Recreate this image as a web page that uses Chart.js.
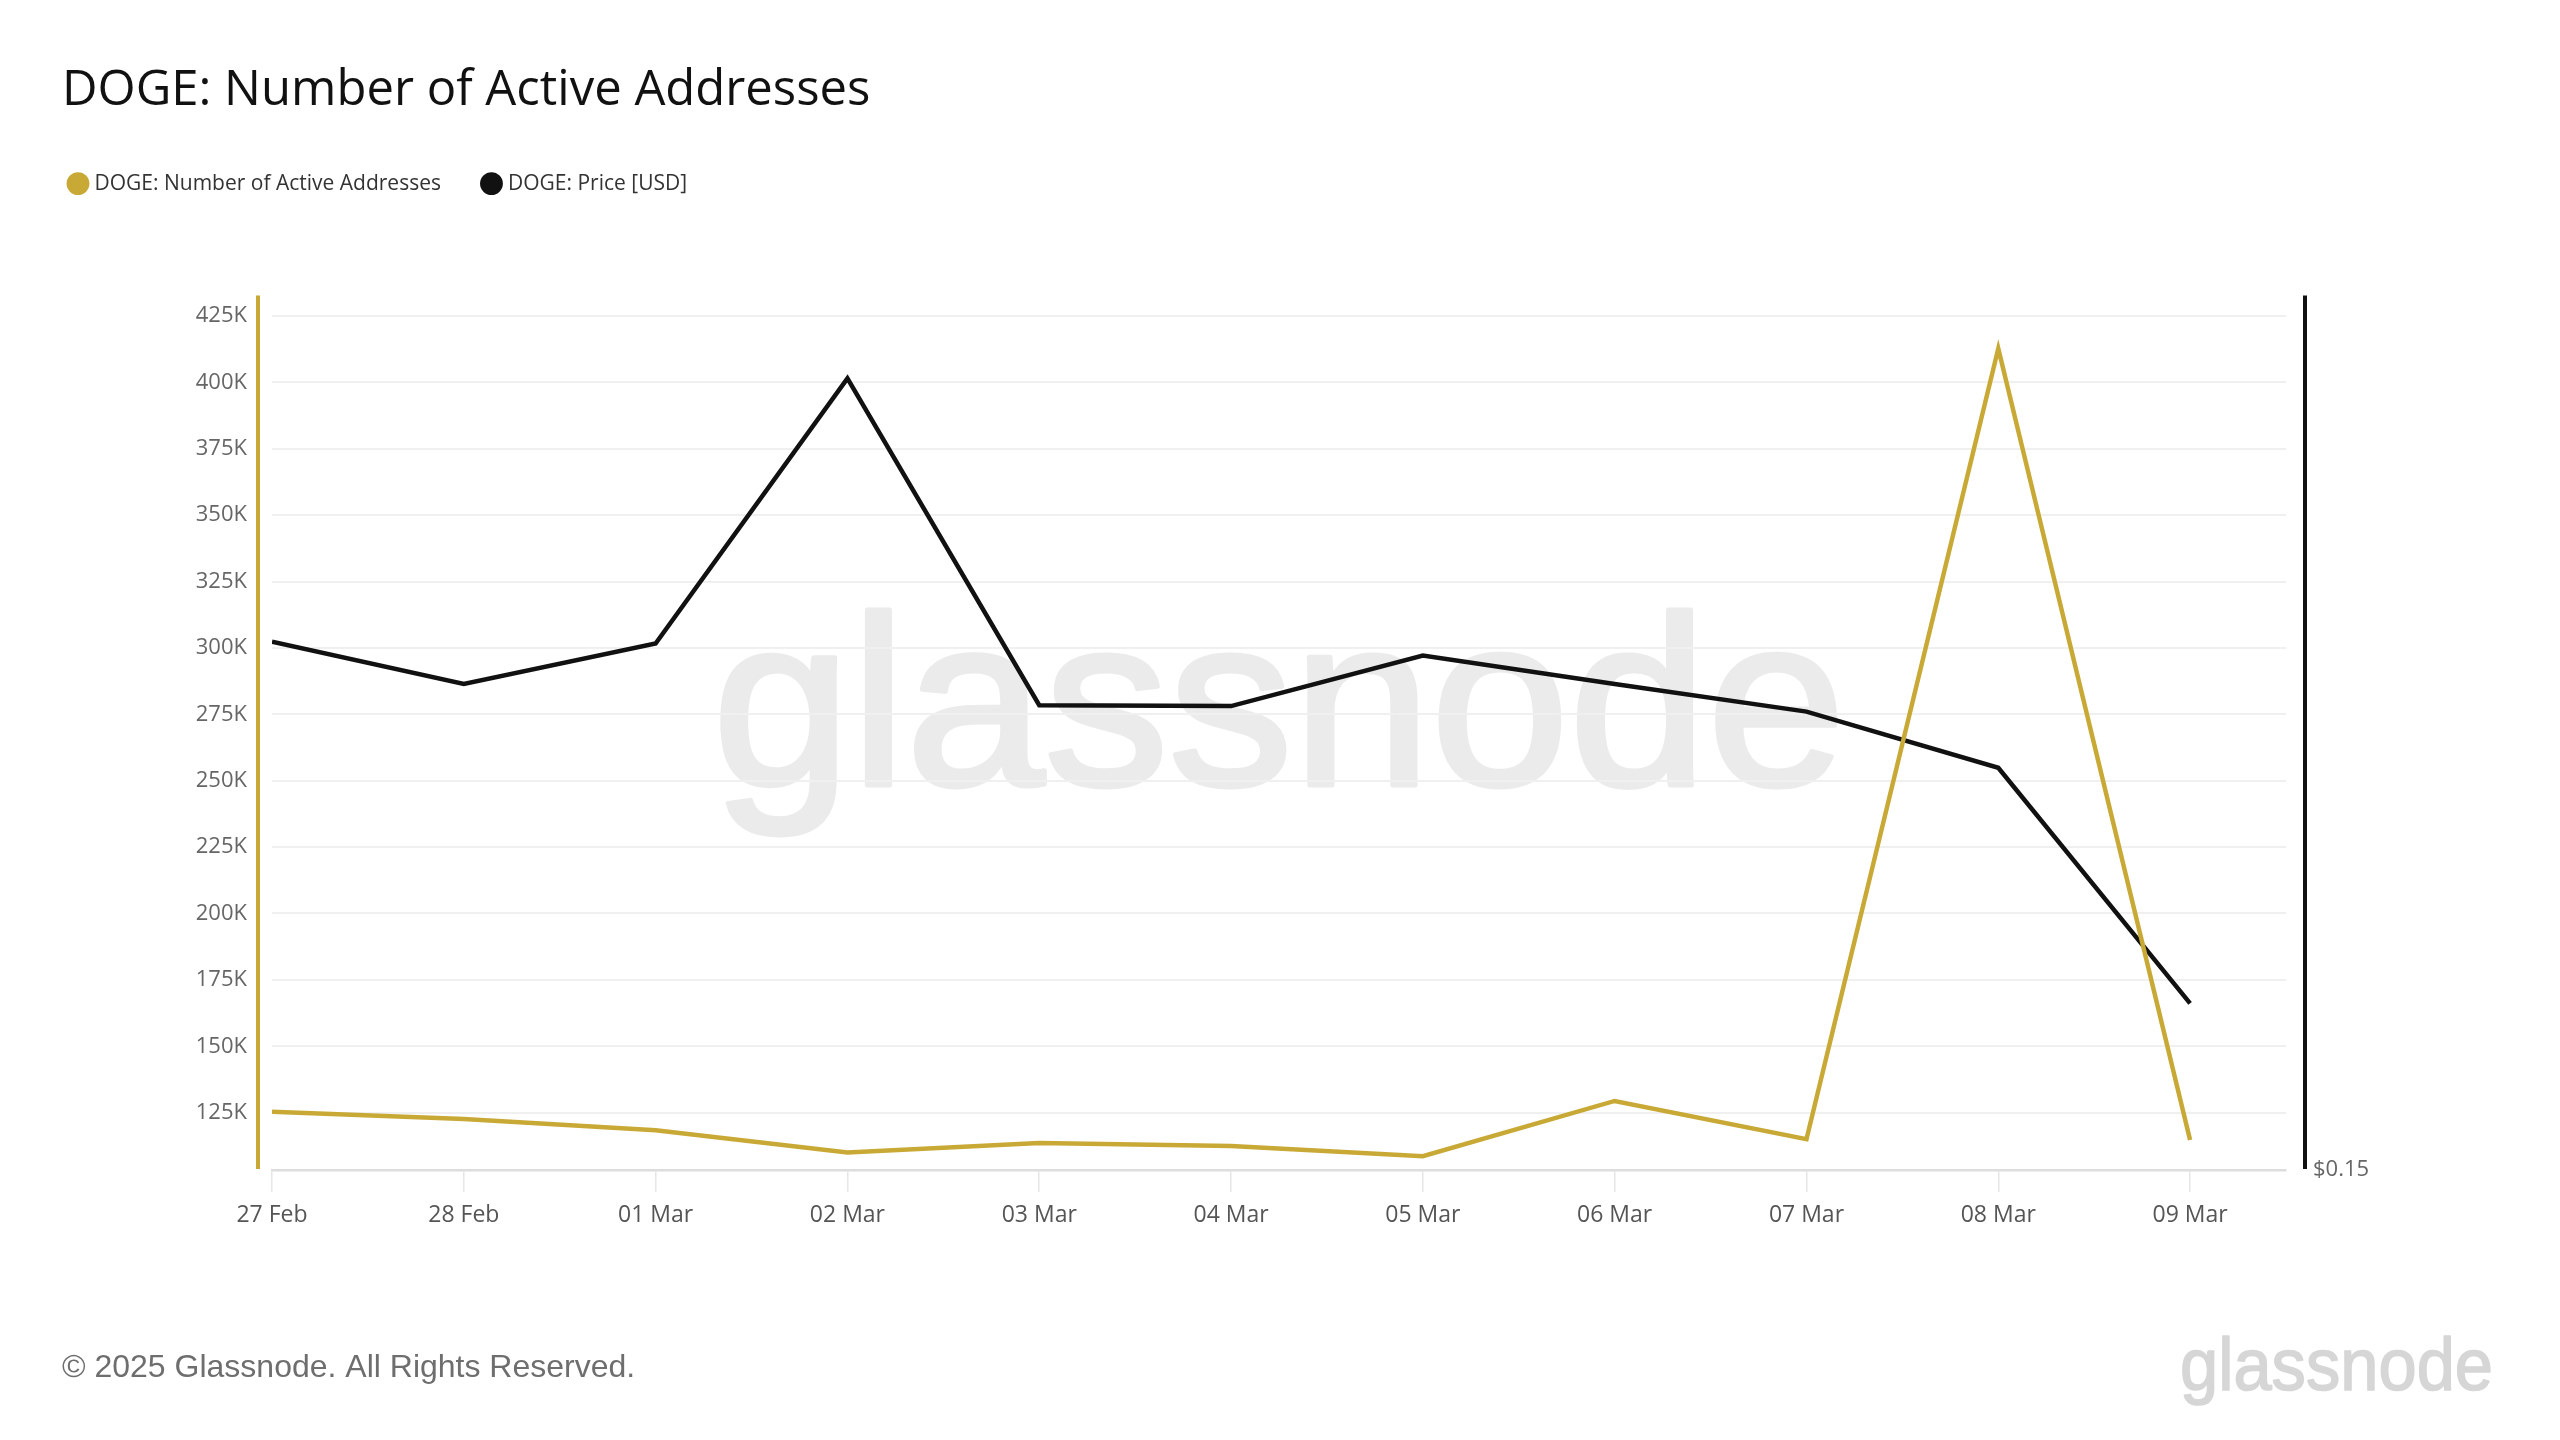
<!DOCTYPE html>
<html>
<head>
<meta charset="utf-8">
<title>DOGE: Number of Active Addresses</title>
<script src="https://cdn.jsdelivr.net/npm/chart.js@4.4.1/dist/chart.umd.min.js"></script>
<style>
    html, body { margin: 0; padding: 0; background: #fff; }
    #wrap { width: 2560px; height: 1440px; }
</style>
</head>
<body>
<div id="wrap"><canvas id="myChart" width="2560" height="1440"></canvas></div>
<script>
const dates = ['27 Feb', '28 Feb', '01 Mar', '02 Mar', '03 Mar', '04 Mar', '05 Mar', '06 Mar', '07 Mar', '08 Mar', '09 Mar'];
const activeAddresses = [125300, 122600, 118400, 110000, 113600, 112400, 108600, 129400, 115000, 412800, 114700];
const priceUsd = [0.2074, 0.2028, 0.2072, 0.2360, 0.2005, 0.2004, 0.2059, 0.2028, 0.1998, 0.1937, 0.1681];
const addressTicks = [125000, 150000, 175000, 200000, 225000, 250000, 275000, 300000, 325000, 350000, 375000, 400000, 425000];
const priceTicks = [0.15];

const GOLD = '#c9a935';
const BLACK = '#111111';
const FONT = "'Open Sans', 'Noto Sans', sans-serif";
const LEGEND_GAP = 44.5;

// extra room between the legend and the plot, and wider gap between legend items
const legendMargin = {
    id: 'legendMargin',
    beforeInit(chart) {
        const fitValue = chart.legend.fit;
        chart.legend.fit = function fit() {
            fitValue.bind(chart.legend)();
            this.height += 57;
        };
    },
    afterLayout(chart) {
        // put the first item where a 10px padding would put it
        chart.legend.left -= LEGEND_GAP - 10;
        chart.legend.top -= LEGEND_GAP - 10;
    }
};

function drawWord(ctx, text, cx, baseline, size, width, color, weight) {
    ctx.save();
    ctx.font = size + "px 'Liberation Sans', Arial, sans-serif";
    const w = ctx.measureText(text).width;
    ctx.translate(cx, baseline);
    ctx.scale(width / w, 1);
    ctx.textAlign = 'center';
    ctx.textBaseline = 'alphabetic';
    ctx.fillStyle = color;
    ctx.strokeStyle = color;
    ctx.lineWidth = weight;
    ctx.lineJoin = 'round';
    ctx.fillText(text, 0, 0);
    ctx.strokeText(text, 0, 0);
    ctx.restore();
}

const glassnodeMarks = {
    id: 'glassnodeMarks',
    beforeDraw(chart) {
        const { ctx, chartArea } = chart;
        ctx.save();
        ctx.fillStyle = '#ffffff';
        ctx.fillRect(0, 0, chart.width, chart.height);
        ctx.restore();
        drawWord(ctx, 'glassnode', (chartArea.left + chartArea.right) / 2, chartArea.top + 489, 242, 1133, '#ebebeb', 5);
        drawWord(ctx, 'glassnode', chart.width - 67 - 313 / 2, chart.height - 50, 74, 313, '#d6d6d6', 1.6);
    },
    afterDraw(chart) {
        const { ctx, chartArea } = chart;
        ctx.save();
        ctx.lineWidth = 4;
        ctx.strokeStyle = GOLD;
        ctx.beginPath();
        ctx.moveTo(chartArea.left - 14, chartArea.top);
        ctx.lineTo(chartArea.left - 14, chartArea.bottom - 1);
        ctx.stroke();
        ctx.strokeStyle = BLACK;
        ctx.beginPath();
        ctx.moveTo(chartArea.right + 19, chartArea.top);
        ctx.lineTo(chartArea.right + 19, chartArea.bottom - 1);
        ctx.stroke();
        ctx.restore();
    }
};

document.addEventListener('DOMContentLoaded', function () {
    let ctx = document.getElementById('myChart').getContext('2d');

    new Chart(ctx, {
        type: 'line',
        data: {
            datasets: [{
                label: 'DOGE: Number of Active Addresses',
                data: dates.map((d, i) => ({ x: i, y: activeAddresses[i] })),
                borderColor: GOLD,
                backgroundColor: GOLD,
                borderWidth: 4.5,
                yAxisID: 'y',
            }, {
                label: 'DOGE: Price [USD]',
                data: dates.map((d, i) => ({ x: i, y: priceUsd[i] })),
                borderColor: BLACK,
                backgroundColor: BLACK,
                borderWidth: 4.5,
                yAxisID: 'y1',
            }]
        },
        options: {
            responsive: false,
            animation: false,
            events: [],
            layout: {
                padding: { top: 61.5, left: 62, right: 0, bottom: 0 }
            },
            elements: {
                line: { tension: 0, fill: false },
                point: { radius: 0 }
            },
            plugins: {
                title: {
                    display: true,
                    text: 'DOGE: Number of Active Addresses',
                    align: 'start',
                    color: '#111',
                    font: { family: FONT, size: 49, weight: 'normal' },
                    padding: { top: 0, bottom: 42.8 }
                },
                subtitle: {
                    display: true,
                    position: 'bottom',
                    align: 'start',
                    text: '\u00A9 2025 Glassnode. All Rights Reserved.',
                    color: '#6e6e6e',
                    font: { family: "'Liberation Sans', Arial, sans-serif", size: 32, weight: 'normal' },
                    padding: { top: 0, bottom: 52.8 }
                },
                legend: {
                    position: 'top',
                    align: 'start',
                    labels: {
                        usePointStyle: true,
                        pointStyle: 'circle',
                        boxWidth: 12,
                        boxHeight: 13,
                        padding: LEGEND_GAP,
                        color: '#333',
                        font: { family: FONT, size: 21 }
                    }
                },
                tooltip: { enabled: false }
            },
            scales: {
                x: {
                    type: 'linear',
                    min: 0,
                    max: dates.length - 0.5,
                    afterBuildTicks: axis => { axis.ticks = dates.map((d, i) => ({ value: i })); },
                    afterFit: axis => { axis.height = 178.8; },
                    grid: {
                        drawOnChartArea: false,
                        drawTicks: true,
                        tickLength: 22,
                        color: '#e6e6e6',
                        lineWidth: 1.5
                    },
                    border: { display: true, color: '#dddddd', width: 2.5 },
                    ticks: {
                        padding: 10,
                        maxRotation: 0,
                        autoSkip: false,
                        color: '#555',
                        font: { family: FONT, size: 23 },
                        callback: value => dates[value]
                    }
                },
                y: {
                    position: 'left',
                    min: 103400,
                    max: 432700,
                    afterBuildTicks: axis => { axis.ticks = addressTicks.map(v => ({ value: v })); },
                    afterFit: axis => { axis.width = 210; },
                    grid: { color: '#f0f0f0', lineWidth: 2, drawTicks: false },
                    border: { display: false },
                    ticks: {
                        padding: 25,
                        color: '#666',
                        font: { family: FONT, size: 22 },
                        callback: value => (value / 1000) + 'K'
                    }
                },
                y1: {
                    position: 'right',
                    min: 0.15,
                    max: 0.245,
                    afterBuildTicks: axis => { axis.ticks = priceTicks.map(v => ({ value: v })); },
                    afterFit: axis => { axis.width = 274; },
                    grid: { display: false },
                    border: { display: false },
                    ticks: {
                        padding: 19,
                        color: '#666',
                        font: { family: FONT, size: 22 },
                        callback: value => '$' + value.toFixed(2)
                    }
                }
            }
        },
        plugins: [legendMargin, glassnodeMarks]
    });
});
</script>
</body>
</html>
